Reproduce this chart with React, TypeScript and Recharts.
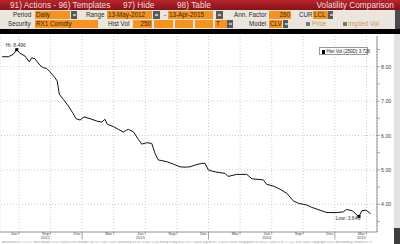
import React from 'react'
import { LineChart, Line, XAxis, YAxis, CartesianGrid, ReferenceLine, ReferenceDot } from 'recharts'

// months since 1-May-2012 (13-May-2012 .. 13-Apr-2015)
const months = [
  0.4, 0.99, 1.46, 1.79, 2.1, 2.57, 2.98, 3.21, 3.52, 4.0, 4.31, 4.63, 4.95, 5.42, 5.64, 5.83,
  6.21, 6.69, 7.1, 7.42, 7.8, 8.18, 8.75, 9.38, 9.86, 10.17, 10.39, 10.96, 11.43, 11.91, 12.23,
  12.38, 12.86, 13.33, 13.66, 14.13, 14.61, 14.92, 15.23, 16.03, 16.66, 17.29, 17.77, 18.24,
  18.72, 19.35, 19.67, 19.98, 20.52, 21.09, 21.57, 21.85, 22.68, 23.63, 24.13, 25.2, 25.53,
  26.15, 26.79, 27.43, 28.05, 28.53, 29.33, 29.8, 30.11, 30.59, 31.23, 32.17, 32.8, 33.11,
  33.68, 34.07, 34.29, 34.55, 34.96, 35.39,
]
// 250-day historical volatility, RX1 Comdty
const histVol = [
  8.29, 8.29, 8.36, 8.496, 8.39, 8.31, 8.14, 8.26, 8.23, 8.04, 7.97, 7.95, 7.85, 7.68, 7.58, 7.2,
  7.05, 6.86, 6.66, 6.49, 6.45, 6.54, 6.49, 6.42, 6.39, 6.47, 6.33, 6.26, 6.18, 6.1, 6.16,
  6.18, 6.11, 5.89, 5.75, 5.79, 5.77, 5.48, 5.29, 5.24, 5.17, 5.09, 5.08, 5.09,
  5.14, 5.19, 5.19, 5.0, 4.95, 4.92, 4.9, 4.81, 4.87, 4.87, 4.74, 4.71, 4.58,
  4.53, 4.44, 4.32, 4.1, 4.03, 3.98, 3.91, 3.88, 3.83, 3.76, 3.76, 3.78, 3.85,
  3.81, 3.69, 3.646, 3.81, 3.83, 3.726,
]

const monthTicks = [2, 5, 8, 11, 14, 17, 20, 23, 26, 29, 32, 35]
const monthLabels = ['Jun', 'Sep', 'Dec', 'Mar', 'Jun', 'Sep', 'Dec', 'Mar', 'Jun', 'Sep', 'Dec', 'Mar']
const yearLabels: Record<number, string> = { 1: '2012', 4: '2013', 8: '2014', 11: '2015' }
const yearBreaks = [8, 20, 32]
const volTicks = [3.5, 4, 4.5, 5, 5.5, 6, 6.5, 7, 7.5, 8, 8.5]
const gridLevels = [4, 5, 6, 7, 8]
const hiPoint = { m: 1.79, v: 8.496 }
const lowPoint = { m: 34.29, v: 3.646 }
const lastVol = 3.726

const data = months.map((m, i) => ({ m, vol: histVol[i] }))

const FONT = '"Liberation Sans", Arial, sans-serif'
const ORANGE = '#f6921e'

const MonthTick = ({ x, y, payload, index }: any) => (
  <g>
    <line x1={x} y1={y} x2={x} y2={y + (yearBreaks.includes(payload.value) ? 7.5 : 2.5)} stroke="#666" strokeWidth={0.6} />
    <text x={x - 5} y={y + 2.8} textAnchor="middle" fontSize={4} fill="#444" fontFamily={FONT}>
      {monthLabels[index]}
    </text>
    {yearLabels[index] && (
      <text x={x - 5} y={y + 7.4} textAnchor="middle" fontSize={4} fill="#444" fontFamily={FONT}>
        {yearLabels[index]}
      </text>
    )}
  </g>
)

const VolTick = ({ x, y, payload }: any) =>
  Number.isInteger(payload.value) ? (
    <text x={x} y={y + 2} fontSize={5.3} fill="#444" fontFamily={FONT}>
      {payload.value.toFixed(2)}
    </text>
  ) : (
    <g />
  )

const marker = (label: string, dx: number, dy: number) => (props: any) => (
  <g>
    <rect x={props.cx - 1.5} y={props.cy - 1.5} width={3} height={3} fill="#000" />
    <text x={props.cx + dx} y={props.cy + dy} textAnchor="middle" fontSize={5} fill="#333" fontFamily={FONT}>
      {label}
    </text>
  </g>
)

const Label = ({ x, y, t, c = '#2a2a2a' }: any) => (
  <span style={{ position: 'absolute', left: x, top: y, fontSize: 6.3, lineHeight: '8px', color: c, whiteSpace: 'nowrap' }}>{t}</span>
)
const Field = ({ x, y, w, t = '', right = false }: any) => (
  <span
    style={{
      position: 'absolute', left: x, top: y, width: w, height: 8, background: ORANGE, color: '#3a2508',
      fontSize: 6.3, lineHeight: '8px', textAlign: right ? 'right' : 'left', paddingLeft: 1, paddingRight: 1,
      boxSizing: 'border-box', overflow: 'hidden', whiteSpace: 'nowrap',
    }}
  >
    {t}
  </span>
)
const Btn = ({ x, y, w = 6 }: any) => (
  <span style={{ position: 'absolute', left: x, top: y, width: w, height: 8, background: '#5a5a5a' }}>
    <span style={{ position: 'absolute', left: 1.5, top: 3, width: 3, height: 2, background: '#bbb' }} />
  </span>
)

export default function App() {
  return (
    <div style={{ position: 'fixed', left: 0, top: 0, width: 400, height: 244, background: '#fff', overflow: 'hidden', fontFamily: FONT }}>
      <LineChart width={400} height={244} data={data} margin={{ top: 36, right: 3, bottom: 0, left: 0 }}>
        <CartesianGrid horizontal={false} stroke="#b8b8b8" strokeDasharray="1 2" strokeWidth={0.7} />
        {gridLevels.map((g) => (
          <ReferenceLine key={g} y={g} stroke="#b8b8b8" strokeDasharray="1 2" strokeWidth={0.7} />
        ))}
        <XAxis
          dataKey="m"
          type="number"
          domain={[0.2, 36]}
          allowDataOverflow
          ticks={monthTicks}
          interval={0}
          height={12}
          tickSize={0}
          tickMargin={0}
          tick={<MonthTick />}
          axisLine={{ stroke: '#777', strokeWidth: 0.8 }}
        />
        <YAxis
          orientation="right"
          type="number"
          domain={[3.195, 8.893]}
          allowDataOverflow
          ticks={volTicks}
          interval={0}
          width={20}
          tickSize={3}
          tickMargin={1}
          tick={<VolTick />}
          tickLine={{ stroke: '#777', strokeWidth: 0.6 }}
          axisLine={{ stroke: '#777', strokeWidth: 0.8 }}
        />
        <Line type="linear" dataKey="vol" stroke="#111" strokeWidth={1} dot={false} isAnimationActive={false} />
        <ReferenceDot x={hiPoint.m} y={hiPoint.v} shape={marker(`Hi: ${hiPoint.v.toFixed(3)}`, -1, -2.5)} />
        <ReferenceDot x={lowPoint.m} y={lowPoint.v} shape={marker(`Low: ${lowPoint.v.toFixed(3)}`, -11, 3.5)} />
      </LineChart>

      {/* legend */}
      <div
        style={{
          position: 'absolute', left: 319, top: 47, width: 49, height: 8, boxSizing: 'border-box',
          border: '0.6px solid #999', background: '#fff', fontSize: 4.6, lineHeight: '7px', whiteSpace: 'nowrap',
          color: '#222', paddingLeft: 1.5,
        }}
      >
        <span style={{ display: 'inline-block', width: 3.5, height: 3.5, background: '#000', marginRight: 1.5, verticalAlign: 'middle' }} />
        Hist Vol (250D) {lastVol.toFixed(3)}
      </div>

      {/* header */}
      <div style={{ position: 'absolute', left: 0, top: 0, width: 400, height: 10, background: 'linear-gradient(#b8262c, #86121a)', color: '#f3dcdc', fontSize: 8.3, lineHeight: '10px', whiteSpace: 'nowrap' }}>
        <span style={{ position: 'absolute', left: 10 }}>91) Actions - 96) Templates</span>
        <span style={{ position: 'absolute', left: 123 }}>97) Hide</span>
        <span style={{ position: 'absolute', left: 177 }}>98) Table</span>
        <span style={{ position: 'absolute', right: 6 }}>Volatility Comparison</span>
      </div>
      <div style={{ position: 'absolute', left: 0, top: 10, width: 400, height: 19, background: '#ebe6dd' }}>
        <Label x={13} y={1} t="Period" />
        <Field x={35} y={1} w={35} t="Daily" />
        <Btn x={71} y={1} />
        <Label x={86} y={1} t="Range" />
        <Field x={107} y={1} w={45} t="13-May-2012" />
        <Btn x={153} y={1} w={7} />
        <Label x={164} y={1} t="-" />
        <Field x={168} y={1} w={45} t="13-Apr-2015" />
        <Btn x={216} y={1} w={7} />
        <Label x={234} y={1} t="Ann. Factor" />
        <Field x={269} y={1} w={22} t="260" right />
        <Label x={299} y={1} t="CUR" />
        <Field x={313} y={1} w={15} t="LCL" />
        <Btn x={328} y={1} w={5} />

        <Label x={8} y={10} t="Security" />
        <Field x={35} y={10} w={63} t="RX1 Comdty" />
        <Label x={108} y={10} t="Hist Vol" />
        <Field x={133} y={10} w={19} t="250" right />
        <Field x={154} y={10} w={19} />
        <Field x={175} y={10} w={18} />
        <Field x={195} y={10} w={18} />
        <Field x={215} y={10} w={12} t="T" />
        <Btn x={227} y={10} />
        <Label x={249} y={10} t="Model" />
        <Field x={269} y={10} w={13} t="CLV" />
        <Btn x={283} y={10} w={5} />
        <span style={{ position: 'absolute', left: 306, top: 12, width: 4, height: 4, background: '#777' }} />
        <Label x={312} y={10} t="Price" c="#c99a52" />
        <span style={{ position: 'absolute', left: 343, top: 12, width: 4, height: 4, background: '#777' }} />
        <Label x={348} y={10} t="Implied Vol" c="#c99a52" />
        <span style={{ position: 'absolute', left: 395, top: 0, width: 5, height: 19, background: '#4a4a4a' }} />
      </div>
      <div style={{ position: 'absolute', left: 0, top: 29, width: 400, height: 5, background: '#000' }} />

      {/* right strip */}
      <div style={{ position: 'absolute', left: 394, top: 34, width: 6, height: 194, background: '#e2e2e2' }} />
      <div style={{ position: 'absolute', left: 394, top: 228, width: 6, height: 16, background: '#3e3e3e' }} />

      {/* footer */}
      <div style={{ position: 'absolute', left: 2, top: 240.5, width: 390, height: 3.5, overflow: 'hidden', fontSize: 3.5, lineHeight: '3.5px', color: '#999', whiteSpace: 'nowrap' }}>
        Australia 61 2 9777 8600 Brazil 5511 3048 4500 Europe 44 20 7330 7500 Germany 49 69 9204 1210 Hong Kong 852 2977 6000 Japan 81 3 3201 8900 Singapore 65 6212 1000 U.S. 1 212 318 2000 Copyright 2015 Bloomberg Finance L.P.
      </div>
    </div>
  )
}
